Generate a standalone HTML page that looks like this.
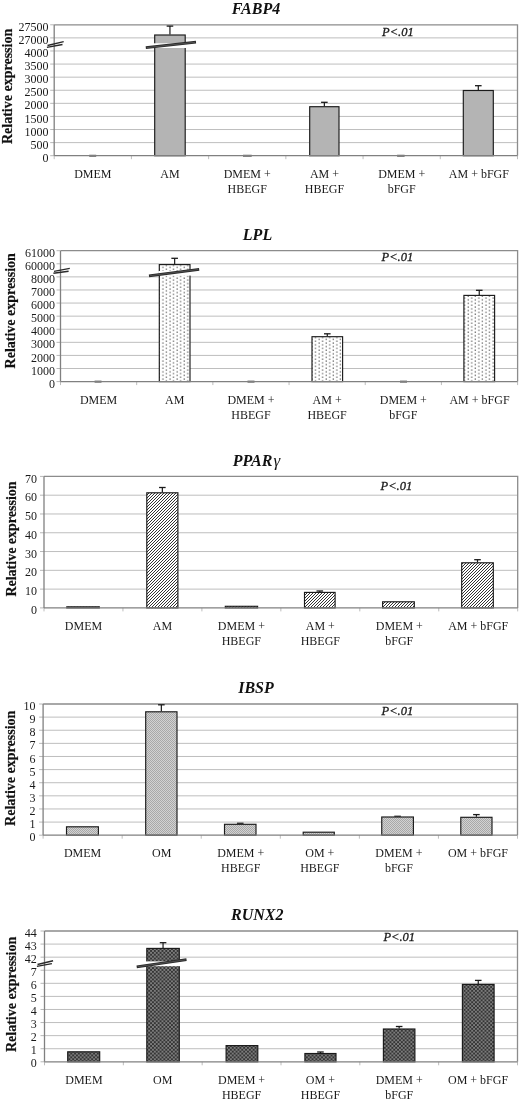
<!DOCTYPE html>
<html><head><meta charset="utf-8"><style>
html,body{margin:0;padding:0;background:#fff;}
svg{display:block;filter:blur(0.4px);}
.t{font-family:'Liberation Serif', serif;font-size:12px;fill:#1a1a1a;}
.ti{font-family:'Liberation Serif', serif;font-size:16px;font-weight:bold;font-style:italic;fill:#111;}
.p{font-family:'Liberation Serif', serif;font-size:12.5px;font-style:italic;fill:#1a1a1a;stroke:#1a1a1a;stroke-width:0.3px;}
.yl{font-family:'Liberation Serif', serif;font-size:14px;font-weight:bold;fill:#111;stroke:#111;stroke-width:0.2px;}
</style></head><body>
<svg width="520" height="1102" viewBox="0 0 520 1102">

<defs>
 <pattern id="pf1" width="4" height="4" patternUnits="userSpaceOnUse"><rect width="4" height="4" fill="#b4b4b4"/></pattern>
 <pattern id="pf2" width="7.1" height="3.6" patternUnits="userSpaceOnUse" patternTransform="translate(-1.5,0)"><rect width="7.1" height="3.6" fill="#fff"/><rect x="0.5" y="0.4" width="1.3" height="1.3" fill="#6a6a6a"/><rect x="4.05" y="2.2" width="1.3" height="1.3" fill="#6a6a6a"/></pattern>
 <pattern id="pf3" width="3" height="3" patternUnits="userSpaceOnUse"><rect width="3" height="3" fill="#fff"/><path d="M-0.75,0.75 L0.75,-0.75 M0,3 L3,0 M2.25,3.75 L3.75,2.25" stroke="#333" stroke-width="1.0"/></pattern>
 <pattern id="pf4" width="2" height="2" patternUnits="userSpaceOnUse"><rect width="2" height="2" fill="#d2d2d2"/><rect x="0" y="0" width="1" height="1" fill="#a8a8a8"/><rect x="1" y="1" width="1" height="1" fill="#a8a8a8"/></pattern>
 <pattern id="pf5" width="3.8" height="3.8" patternUnits="userSpaceOnUse"><rect width="3.8" height="3.8" fill="#353535"/><rect x="0" y="0" width="1.9" height="1.9" fill="#7c7c7c"/><rect x="1.9" y="1.9" width="1.9" height="1.9" fill="#7c7c7c"/></pattern>
</defs>
<line x1="54.2" y1="37.89" x2="517.5" y2="37.89" stroke="#bebebe" stroke-width="1"/>
<line x1="54.2" y1="50.98" x2="517.5" y2="50.98" stroke="#bebebe" stroke-width="1"/>
<line x1="54.2" y1="64.07" x2="517.5" y2="64.07" stroke="#bebebe" stroke-width="1"/>
<line x1="54.2" y1="77.16" x2="517.5" y2="77.16" stroke="#bebebe" stroke-width="1"/>
<line x1="54.2" y1="90.25" x2="517.5" y2="90.25" stroke="#bebebe" stroke-width="1"/>
<line x1="54.2" y1="103.34" x2="517.5" y2="103.34" stroke="#bebebe" stroke-width="1"/>
<line x1="54.2" y1="116.43" x2="517.5" y2="116.43" stroke="#bebebe" stroke-width="1"/>
<line x1="54.2" y1="129.52" x2="517.5" y2="129.52" stroke="#bebebe" stroke-width="1"/>
<line x1="54.2" y1="142.61" x2="517.5" y2="142.61" stroke="#bebebe" stroke-width="1"/>
<polyline points="54.2,24.8 517.5,24.8 517.5,155.7" fill="none" stroke="#8c8c8c" stroke-width="1.3"/>
<line x1="50.2" y1="24.8" x2="54.2" y2="24.8" stroke="#b8b8b8" stroke-width="1"/>
<line x1="50.2" y1="37.89" x2="54.2" y2="37.89" stroke="#b8b8b8" stroke-width="1"/>
<line x1="50.2" y1="50.98" x2="54.2" y2="50.98" stroke="#b8b8b8" stroke-width="1"/>
<line x1="50.2" y1="64.07" x2="54.2" y2="64.07" stroke="#b8b8b8" stroke-width="1"/>
<line x1="50.2" y1="77.16" x2="54.2" y2="77.16" stroke="#b8b8b8" stroke-width="1"/>
<line x1="50.2" y1="90.25" x2="54.2" y2="90.25" stroke="#b8b8b8" stroke-width="1"/>
<line x1="50.2" y1="103.34" x2="54.2" y2="103.34" stroke="#b8b8b8" stroke-width="1"/>
<line x1="50.2" y1="116.43" x2="54.2" y2="116.43" stroke="#b8b8b8" stroke-width="1"/>
<line x1="50.2" y1="129.52" x2="54.2" y2="129.52" stroke="#b8b8b8" stroke-width="1"/>
<line x1="50.2" y1="142.61" x2="54.2" y2="142.61" stroke="#b8b8b8" stroke-width="1"/>
<line x1="50.2" y1="155.7" x2="54.2" y2="155.7" stroke="#b8b8b8" stroke-width="1"/>
<line x1="54.2" y1="155.7" x2="54.2" y2="159.2" stroke="#bdbdbd" stroke-width="1"/>
<line x1="131.42" y1="155.7" x2="131.42" y2="159.2" stroke="#bdbdbd" stroke-width="1"/>
<line x1="208.63" y1="155.7" x2="208.63" y2="159.2" stroke="#bdbdbd" stroke-width="1"/>
<line x1="285.85" y1="155.7" x2="285.85" y2="159.2" stroke="#bdbdbd" stroke-width="1"/>
<line x1="363.07" y1="155.7" x2="363.07" y2="159.2" stroke="#bdbdbd" stroke-width="1"/>
<line x1="440.28" y1="155.7" x2="440.28" y2="159.2" stroke="#bdbdbd" stroke-width="1"/>
<line x1="517.5" y1="155.7" x2="517.5" y2="159.2" stroke="#bdbdbd" stroke-width="1"/>
<line x1="89.2" y1="155.7" x2="96.2" y2="155.7" stroke="#333" stroke-width="1.8"/>
<rect x="154.7" y="35" width="30.5" height="120.7" fill="url(#pf1)" stroke="#1a1a1a" stroke-width="1.15"/>
<line x1="169.95" y1="34.5" x2="169.95" y2="26.1" stroke="#1a1a1a" stroke-width="1.2"/>
<line x1="166.65" y1="26.1" x2="173.25" y2="26.1" stroke="#1a1a1a" stroke-width="1.3"/>
<line x1="243" y1="155.7" x2="251.7" y2="155.7" stroke="#333" stroke-width="1.8"/>
<rect x="309.7" y="106.7" width="29.3" height="49" fill="url(#pf1)" stroke="#1a1a1a" stroke-width="1.15"/>
<line x1="324.35" y1="106.2" x2="324.35" y2="102.3" stroke="#1a1a1a" stroke-width="1.2"/>
<line x1="321.05" y1="102.3" x2="327.65" y2="102.3" stroke="#1a1a1a" stroke-width="1.3"/>
<line x1="397.1" y1="155.7" x2="404.6" y2="155.7" stroke="#333" stroke-width="1.8"/>
<rect x="463.3" y="90.5" width="30" height="65.2" fill="url(#pf1)" stroke="#1a1a1a" stroke-width="1.15"/>
<line x1="478.3" y1="90" x2="478.3" y2="85.7" stroke="#1a1a1a" stroke-width="1.2"/>
<line x1="475" y1="85.7" x2="481.6" y2="85.7" stroke="#1a1a1a" stroke-width="1.3"/>
<rect x="153.7" y="43.3" width="32.5" height="4.7" fill="#fff"/>
<line x1="145.8" y1="47.7" x2="196" y2="42.2" stroke="#2a2a2a" stroke-width="2.8"/>
<line x1="146.8" y1="47.6" x2="195" y2="42.3" stroke="#6a6a6a" stroke-width="0.6"/>
<line x1="54.2" y1="24.8" x2="54.2" y2="155.7" stroke="#808080" stroke-width="1.3"/>
<line x1="54.2" y1="155.7" x2="517.5" y2="155.7" stroke="#808080" stroke-width="1.3"/>
<path d="M47.5,45.5 L63.7,41.6 M46.9,47.4 L62.5,44.5" fill="none" stroke="#2a2a2a" stroke-width="1.4"/>
<text x="48.5" y="30.9" text-anchor="end" class="t">27500</text>
<text x="48.5" y="43.99" text-anchor="end" class="t">27000</text>
<text x="48.5" y="57.08" text-anchor="end" class="t">4000</text>
<text x="48.5" y="70.17" text-anchor="end" class="t">3500</text>
<text x="48.5" y="83.26" text-anchor="end" class="t">3000</text>
<text x="48.5" y="96.35" text-anchor="end" class="t">2500</text>
<text x="48.5" y="109.44" text-anchor="end" class="t">2000</text>
<text x="48.5" y="122.53" text-anchor="end" class="t">1500</text>
<text x="48.5" y="135.62" text-anchor="end" class="t">1000</text>
<text x="48.5" y="148.71" text-anchor="end" class="t">500</text>
<text x="48.5" y="161.8" text-anchor="end" class="t">0</text>
<text x="92.81" y="177.7" text-anchor="middle" class="t">DMEM</text>
<text x="170.03" y="177.7" text-anchor="middle" class="t">AM</text>
<text x="247.24" y="177.7" text-anchor="middle" class="t">DMEM +</text>
<text x="247.24" y="192.7" text-anchor="middle" class="t">HBEGF</text>
<text x="324.46" y="177.7" text-anchor="middle" class="t">AM +</text>
<text x="324.46" y="192.7" text-anchor="middle" class="t">HBEGF</text>
<text x="401.68" y="177.7" text-anchor="middle" class="t">DMEM +</text>
<text x="401.68" y="192.7" text-anchor="middle" class="t">bFGF</text>
<text x="478.89" y="177.7" text-anchor="middle" class="t">AM + bFGF</text>
<text x="256" y="13.5" text-anchor="middle" class="ti">FABP4</text>
<text x="382" y="35.6" class="p">P&lt;.01</text>
<text transform="translate(12.3,86.4) rotate(-90)" text-anchor="middle" class="yl">Relative expression</text>
<line x1="60.5" y1="263.79" x2="517.6" y2="263.79" stroke="#bebebe" stroke-width="1"/>
<line x1="60.5" y1="276.88" x2="517.6" y2="276.88" stroke="#bebebe" stroke-width="1"/>
<line x1="60.5" y1="289.97" x2="517.6" y2="289.97" stroke="#bebebe" stroke-width="1"/>
<line x1="60.5" y1="303.06" x2="517.6" y2="303.06" stroke="#bebebe" stroke-width="1"/>
<line x1="60.5" y1="316.15" x2="517.6" y2="316.15" stroke="#bebebe" stroke-width="1"/>
<line x1="60.5" y1="329.24" x2="517.6" y2="329.24" stroke="#bebebe" stroke-width="1"/>
<line x1="60.5" y1="342.33" x2="517.6" y2="342.33" stroke="#bebebe" stroke-width="1"/>
<line x1="60.5" y1="355.42" x2="517.6" y2="355.42" stroke="#bebebe" stroke-width="1"/>
<line x1="60.5" y1="368.51" x2="517.6" y2="368.51" stroke="#bebebe" stroke-width="1"/>
<polyline points="60.5,250.7 517.6,250.7 517.6,381.6" fill="none" stroke="#8c8c8c" stroke-width="1.3"/>
<line x1="56.5" y1="250.7" x2="60.5" y2="250.7" stroke="#b8b8b8" stroke-width="1"/>
<line x1="56.5" y1="263.79" x2="60.5" y2="263.79" stroke="#b8b8b8" stroke-width="1"/>
<line x1="56.5" y1="276.88" x2="60.5" y2="276.88" stroke="#b8b8b8" stroke-width="1"/>
<line x1="56.5" y1="289.97" x2="60.5" y2="289.97" stroke="#b8b8b8" stroke-width="1"/>
<line x1="56.5" y1="303.06" x2="60.5" y2="303.06" stroke="#b8b8b8" stroke-width="1"/>
<line x1="56.5" y1="316.15" x2="60.5" y2="316.15" stroke="#b8b8b8" stroke-width="1"/>
<line x1="56.5" y1="329.24" x2="60.5" y2="329.24" stroke="#b8b8b8" stroke-width="1"/>
<line x1="56.5" y1="342.33" x2="60.5" y2="342.33" stroke="#b8b8b8" stroke-width="1"/>
<line x1="56.5" y1="355.42" x2="60.5" y2="355.42" stroke="#b8b8b8" stroke-width="1"/>
<line x1="56.5" y1="368.51" x2="60.5" y2="368.51" stroke="#b8b8b8" stroke-width="1"/>
<line x1="56.5" y1="381.6" x2="60.5" y2="381.6" stroke="#b8b8b8" stroke-width="1"/>
<line x1="60.5" y1="381.6" x2="60.5" y2="385.1" stroke="#bdbdbd" stroke-width="1"/>
<line x1="136.68" y1="381.6" x2="136.68" y2="385.1" stroke="#bdbdbd" stroke-width="1"/>
<line x1="212.87" y1="381.6" x2="212.87" y2="385.1" stroke="#bdbdbd" stroke-width="1"/>
<line x1="289.05" y1="381.6" x2="289.05" y2="385.1" stroke="#bdbdbd" stroke-width="1"/>
<line x1="365.23" y1="381.6" x2="365.23" y2="385.1" stroke="#bdbdbd" stroke-width="1"/>
<line x1="441.42" y1="381.6" x2="441.42" y2="385.1" stroke="#bdbdbd" stroke-width="1"/>
<line x1="517.6" y1="381.6" x2="517.6" y2="385.1" stroke="#bdbdbd" stroke-width="1"/>
<line x1="94.6" y1="381.6" x2="101.5" y2="381.6" stroke="#333" stroke-width="1.8"/>
<rect x="159.3" y="264.6" width="30.7" height="117" fill="url(#pf2)" stroke="#1a1a1a" stroke-width="1.15"/>
<line x1="174.65" y1="264.1" x2="174.65" y2="258.3" stroke="#1a1a1a" stroke-width="1.2"/>
<line x1="171.35" y1="258.3" x2="177.95" y2="258.3" stroke="#1a1a1a" stroke-width="1.3"/>
<line x1="247.5" y1="381.6" x2="254.5" y2="381.6" stroke="#333" stroke-width="1.8"/>
<rect x="312" y="336.7" width="30.6" height="44.9" fill="url(#pf2)" stroke="#1a1a1a" stroke-width="1.15"/>
<line x1="327.3" y1="336.2" x2="327.3" y2="333.8" stroke="#1a1a1a" stroke-width="1.2"/>
<line x1="324" y1="333.8" x2="330.6" y2="333.8" stroke="#1a1a1a" stroke-width="1.3"/>
<line x1="400" y1="381.6" x2="407" y2="381.6" stroke="#333" stroke-width="1.8"/>
<rect x="463.9" y="295.4" width="30.7" height="86.2" fill="url(#pf2)" stroke="#1a1a1a" stroke-width="1.15"/>
<line x1="479.25" y1="294.9" x2="479.25" y2="290.3" stroke="#1a1a1a" stroke-width="1.2"/>
<line x1="475.95" y1="290.3" x2="482.55" y2="290.3" stroke="#1a1a1a" stroke-width="1.3"/>
<rect x="158.3" y="271" width="32.7" height="4.6" fill="#fff"/>
<line x1="149" y1="275.8" x2="199.2" y2="269.4" stroke="#2a2a2a" stroke-width="2.8"/>
<line x1="150" y1="275.7" x2="198.2" y2="269.5" stroke="#6a6a6a" stroke-width="0.6"/>
<line x1="60.5" y1="250.7" x2="60.5" y2="381.6" stroke="#808080" stroke-width="1.3"/>
<line x1="60.5" y1="381.6" x2="517.6" y2="381.6" stroke="#808080" stroke-width="1.3"/>
<path d="M54,271.4 L69.8,268.4 M53.4,273.3 L68.6,271.3" fill="none" stroke="#2a2a2a" stroke-width="1.4"/>
<text x="55" y="256.8" text-anchor="end" class="t">61000</text>
<text x="55" y="269.89" text-anchor="end" class="t">60000</text>
<text x="55" y="282.98" text-anchor="end" class="t">8000</text>
<text x="55" y="296.07" text-anchor="end" class="t">7000</text>
<text x="55" y="309.16" text-anchor="end" class="t">6000</text>
<text x="55" y="322.25" text-anchor="end" class="t">5000</text>
<text x="55" y="335.34" text-anchor="end" class="t">4000</text>
<text x="55" y="348.43" text-anchor="end" class="t">3000</text>
<text x="55" y="361.52" text-anchor="end" class="t">2000</text>
<text x="55" y="374.61" text-anchor="end" class="t">1000</text>
<text x="55" y="387.7" text-anchor="end" class="t">0</text>
<text x="98.59" y="403.6" text-anchor="middle" class="t">DMEM</text>
<text x="174.78" y="403.6" text-anchor="middle" class="t">AM</text>
<text x="250.96" y="403.6" text-anchor="middle" class="t">DMEM +</text>
<text x="250.96" y="418.6" text-anchor="middle" class="t">HBEGF</text>
<text x="327.14" y="403.6" text-anchor="middle" class="t">AM +</text>
<text x="327.14" y="418.6" text-anchor="middle" class="t">HBEGF</text>
<text x="403.33" y="403.6" text-anchor="middle" class="t">DMEM +</text>
<text x="403.33" y="418.6" text-anchor="middle" class="t">bFGF</text>
<text x="479.51" y="403.6" text-anchor="middle" class="t">AM + bFGF</text>
<text x="257.5" y="239.6" text-anchor="middle" class="ti">LPL</text>
<text x="381.5" y="261.2" class="p">P&lt;.01</text>
<text transform="translate(14.7,310.8) rotate(-90)" text-anchor="middle" class="yl">Relative expression</text>
<line x1="44" y1="495.19" x2="517.7" y2="495.19" stroke="#bebebe" stroke-width="1"/>
<line x1="44" y1="513.97" x2="517.7" y2="513.97" stroke="#bebebe" stroke-width="1"/>
<line x1="44" y1="532.76" x2="517.7" y2="532.76" stroke="#bebebe" stroke-width="1"/>
<line x1="44" y1="551.54" x2="517.7" y2="551.54" stroke="#bebebe" stroke-width="1"/>
<line x1="44" y1="570.33" x2="517.7" y2="570.33" stroke="#bebebe" stroke-width="1"/>
<line x1="44" y1="589.11" x2="517.7" y2="589.11" stroke="#bebebe" stroke-width="1"/>
<polyline points="44,476.4 517.7,476.4 517.7,607.9" fill="none" stroke="#8c8c8c" stroke-width="1.3"/>
<line x1="40" y1="476.4" x2="44" y2="476.4" stroke="#b8b8b8" stroke-width="1"/>
<line x1="40" y1="495.19" x2="44" y2="495.19" stroke="#b8b8b8" stroke-width="1"/>
<line x1="40" y1="513.97" x2="44" y2="513.97" stroke="#b8b8b8" stroke-width="1"/>
<line x1="40" y1="532.76" x2="44" y2="532.76" stroke="#b8b8b8" stroke-width="1"/>
<line x1="40" y1="551.54" x2="44" y2="551.54" stroke="#b8b8b8" stroke-width="1"/>
<line x1="40" y1="570.33" x2="44" y2="570.33" stroke="#b8b8b8" stroke-width="1"/>
<line x1="40" y1="589.11" x2="44" y2="589.11" stroke="#b8b8b8" stroke-width="1"/>
<line x1="40" y1="607.9" x2="44" y2="607.9" stroke="#b8b8b8" stroke-width="1"/>
<line x1="44" y1="607.9" x2="44" y2="611.4" stroke="#bdbdbd" stroke-width="1"/>
<line x1="122.95" y1="607.9" x2="122.95" y2="611.4" stroke="#bdbdbd" stroke-width="1"/>
<line x1="201.9" y1="607.9" x2="201.9" y2="611.4" stroke="#bdbdbd" stroke-width="1"/>
<line x1="280.85" y1="607.9" x2="280.85" y2="611.4" stroke="#bdbdbd" stroke-width="1"/>
<line x1="359.8" y1="607.9" x2="359.8" y2="611.4" stroke="#bdbdbd" stroke-width="1"/>
<line x1="438.75" y1="607.9" x2="438.75" y2="611.4" stroke="#bdbdbd" stroke-width="1"/>
<line x1="517.7" y1="607.9" x2="517.7" y2="611.4" stroke="#bdbdbd" stroke-width="1"/>
<rect x="66.8" y="606.8" width="32.5" height="1.1" fill="url(#pf3)" stroke="#1a1a1a" stroke-width="1.15"/>
<rect x="146.8" y="492.8" width="31.1" height="115.1" fill="url(#pf3)" stroke="#1a1a1a" stroke-width="1.15"/>
<line x1="162.35" y1="492.3" x2="162.35" y2="487.5" stroke="#1a1a1a" stroke-width="1.2"/>
<line x1="159.05" y1="487.5" x2="165.65" y2="487.5" stroke="#1a1a1a" stroke-width="1.3"/>
<rect x="225.3" y="606.3" width="32.3" height="1.6" fill="url(#pf3)" stroke="#1a1a1a" stroke-width="1.15"/>
<rect x="304.5" y="592.4" width="30.6" height="15.5" fill="url(#pf3)" stroke="#1a1a1a" stroke-width="1.15"/>
<line x1="319.8" y1="591.9" x2="319.8" y2="591" stroke="#1a1a1a" stroke-width="1.2"/>
<line x1="316.5" y1="591" x2="323.1" y2="591" stroke="#1a1a1a" stroke-width="1.3"/>
<rect x="382.6" y="601.8" width="31.7" height="6.1" fill="url(#pf3)" stroke="#1a1a1a" stroke-width="1.15"/>
<rect x="461.7" y="562.8" width="31.6" height="45.1" fill="url(#pf3)" stroke="#1a1a1a" stroke-width="1.15"/>
<line x1="477.5" y1="562.3" x2="477.5" y2="559.7" stroke="#1a1a1a" stroke-width="1.2"/>
<line x1="474.2" y1="559.7" x2="480.8" y2="559.7" stroke="#1a1a1a" stroke-width="1.3"/>
<line x1="44" y1="476.4" x2="44" y2="607.9" stroke="#808080" stroke-width="1.3"/>
<line x1="44" y1="607.9" x2="517.7" y2="607.9" stroke="#808080" stroke-width="1.3"/>
<text x="37" y="482.5" text-anchor="end" class="t">70</text>
<text x="37" y="501.29" text-anchor="end" class="t">60</text>
<text x="37" y="520.07" text-anchor="end" class="t">50</text>
<text x="37" y="538.86" text-anchor="end" class="t">40</text>
<text x="37" y="557.64" text-anchor="end" class="t">30</text>
<text x="37" y="576.43" text-anchor="end" class="t">20</text>
<text x="37" y="595.21" text-anchor="end" class="t">10</text>
<text x="37" y="614" text-anchor="end" class="t">0</text>
<text x="83.47" y="629.9" text-anchor="middle" class="t">DMEM</text>
<text x="162.43" y="629.9" text-anchor="middle" class="t">AM</text>
<text x="241.38" y="629.9" text-anchor="middle" class="t">DMEM +</text>
<text x="241.38" y="644.9" text-anchor="middle" class="t">HBEGF</text>
<text x="320.32" y="629.9" text-anchor="middle" class="t">AM +</text>
<text x="320.32" y="644.9" text-anchor="middle" class="t">HBEGF</text>
<text x="399.28" y="629.9" text-anchor="middle" class="t">DMEM +</text>
<text x="399.28" y="644.9" text-anchor="middle" class="t">bFGF</text>
<text x="478.23" y="629.9" text-anchor="middle" class="t">AM + bFGF</text>
<text x="256.5" y="466.1" text-anchor="middle" class="ti">PPAR<tspan dx="1.2" style="font-weight:normal" font-size="17">&#947;</tspan></text>
<text x="380.5" y="490.3" class="p">P&lt;.01</text>
<text transform="translate(16,539) rotate(-90)" text-anchor="middle" class="yl">Relative expression</text>
<line x1="43.1" y1="717.12" x2="517.5" y2="717.12" stroke="#bebebe" stroke-width="1"/>
<line x1="43.1" y1="730.24" x2="517.5" y2="730.24" stroke="#bebebe" stroke-width="1"/>
<line x1="43.1" y1="743.36" x2="517.5" y2="743.36" stroke="#bebebe" stroke-width="1"/>
<line x1="43.1" y1="756.48" x2="517.5" y2="756.48" stroke="#bebebe" stroke-width="1"/>
<line x1="43.1" y1="769.6" x2="517.5" y2="769.6" stroke="#bebebe" stroke-width="1"/>
<line x1="43.1" y1="782.72" x2="517.5" y2="782.72" stroke="#bebebe" stroke-width="1"/>
<line x1="43.1" y1="795.84" x2="517.5" y2="795.84" stroke="#bebebe" stroke-width="1"/>
<line x1="43.1" y1="808.96" x2="517.5" y2="808.96" stroke="#bebebe" stroke-width="1"/>
<line x1="43.1" y1="822.08" x2="517.5" y2="822.08" stroke="#bebebe" stroke-width="1"/>
<polyline points="43.1,704 517.5,704 517.5,835.2" fill="none" stroke="#8c8c8c" stroke-width="1.3"/>
<line x1="39.1" y1="704" x2="43.1" y2="704" stroke="#b8b8b8" stroke-width="1"/>
<line x1="39.1" y1="717.12" x2="43.1" y2="717.12" stroke="#b8b8b8" stroke-width="1"/>
<line x1="39.1" y1="730.24" x2="43.1" y2="730.24" stroke="#b8b8b8" stroke-width="1"/>
<line x1="39.1" y1="743.36" x2="43.1" y2="743.36" stroke="#b8b8b8" stroke-width="1"/>
<line x1="39.1" y1="756.48" x2="43.1" y2="756.48" stroke="#b8b8b8" stroke-width="1"/>
<line x1="39.1" y1="769.6" x2="43.1" y2="769.6" stroke="#b8b8b8" stroke-width="1"/>
<line x1="39.1" y1="782.72" x2="43.1" y2="782.72" stroke="#b8b8b8" stroke-width="1"/>
<line x1="39.1" y1="795.84" x2="43.1" y2="795.84" stroke="#b8b8b8" stroke-width="1"/>
<line x1="39.1" y1="808.96" x2="43.1" y2="808.96" stroke="#b8b8b8" stroke-width="1"/>
<line x1="39.1" y1="822.08" x2="43.1" y2="822.08" stroke="#b8b8b8" stroke-width="1"/>
<line x1="39.1" y1="835.2" x2="43.1" y2="835.2" stroke="#b8b8b8" stroke-width="1"/>
<line x1="43.1" y1="835.2" x2="43.1" y2="838.7" stroke="#bdbdbd" stroke-width="1"/>
<line x1="122.17" y1="835.2" x2="122.17" y2="838.7" stroke="#bdbdbd" stroke-width="1"/>
<line x1="201.23" y1="835.2" x2="201.23" y2="838.7" stroke="#bdbdbd" stroke-width="1"/>
<line x1="280.3" y1="835.2" x2="280.3" y2="838.7" stroke="#bdbdbd" stroke-width="1"/>
<line x1="359.37" y1="835.2" x2="359.37" y2="838.7" stroke="#bdbdbd" stroke-width="1"/>
<line x1="438.43" y1="835.2" x2="438.43" y2="838.7" stroke="#bdbdbd" stroke-width="1"/>
<line x1="517.5" y1="835.2" x2="517.5" y2="838.7" stroke="#bdbdbd" stroke-width="1"/>
<rect x="66.5" y="826.8" width="31.9" height="8.4" fill="url(#pf4)" stroke="#1a1a1a" stroke-width="1.15"/>
<rect x="145.7" y="711.8" width="31.3" height="123.4" fill="url(#pf4)" stroke="#1a1a1a" stroke-width="1.15"/>
<line x1="161.35" y1="711.3" x2="161.35" y2="704.8" stroke="#1a1a1a" stroke-width="1.2"/>
<line x1="158.05" y1="704.8" x2="164.65" y2="704.8" stroke="#1a1a1a" stroke-width="1.3"/>
<rect x="224.5" y="824.3" width="31.5" height="10.9" fill="url(#pf4)" stroke="#1a1a1a" stroke-width="1.15"/>
<line x1="236.95" y1="823.3" x2="243.55" y2="823.3" stroke="#333" stroke-width="1.4"/>
<rect x="303.2" y="832.2" width="31.1" height="3" fill="url(#pf4)" stroke="#1a1a1a" stroke-width="1.15"/>
<rect x="381.75" y="817" width="31.65" height="18.2" fill="url(#pf4)" stroke="#1a1a1a" stroke-width="1.15"/>
<line x1="394.27" y1="816.3" x2="400.88" y2="816.3" stroke="#333" stroke-width="1.4"/>
<rect x="460.8" y="817.3" width="31.2" height="17.9" fill="url(#pf4)" stroke="#1a1a1a" stroke-width="1.15"/>
<line x1="476.4" y1="816.8" x2="476.4" y2="814.6" stroke="#1a1a1a" stroke-width="1.2"/>
<line x1="473.1" y1="814.6" x2="479.7" y2="814.6" stroke="#1a1a1a" stroke-width="1.3"/>
<line x1="43.1" y1="704" x2="43.1" y2="835.2" stroke="#808080" stroke-width="1.3"/>
<line x1="43.1" y1="835.2" x2="517.5" y2="835.2" stroke="#808080" stroke-width="1.3"/>
<text x="35.4" y="710.1" text-anchor="end" class="t">10</text>
<text x="35.4" y="723.22" text-anchor="end" class="t">9</text>
<text x="35.4" y="736.34" text-anchor="end" class="t">8</text>
<text x="35.4" y="749.46" text-anchor="end" class="t">7</text>
<text x="35.4" y="762.58" text-anchor="end" class="t">6</text>
<text x="35.4" y="775.7" text-anchor="end" class="t">5</text>
<text x="35.4" y="788.82" text-anchor="end" class="t">4</text>
<text x="35.4" y="801.94" text-anchor="end" class="t">3</text>
<text x="35.4" y="815.06" text-anchor="end" class="t">2</text>
<text x="35.4" y="828.18" text-anchor="end" class="t">1</text>
<text x="35.4" y="841.3" text-anchor="end" class="t">0</text>
<text x="82.63" y="857.2" text-anchor="middle" class="t">DMEM</text>
<text x="161.7" y="857.2" text-anchor="middle" class="t">OM</text>
<text x="240.77" y="857.2" text-anchor="middle" class="t">DMEM +</text>
<text x="240.77" y="872.2" text-anchor="middle" class="t">HBEGF</text>
<text x="319.83" y="857.2" text-anchor="middle" class="t">OM +</text>
<text x="319.83" y="872.2" text-anchor="middle" class="t">HBEGF</text>
<text x="398.9" y="857.2" text-anchor="middle" class="t">DMEM +</text>
<text x="398.9" y="872.2" text-anchor="middle" class="t">bFGF</text>
<text x="477.97" y="857.2" text-anchor="middle" class="t">OM + bFGF</text>
<text x="256" y="693.1" text-anchor="middle" class="ti">IBSP</text>
<text x="381.5" y="714.9" class="p">P&lt;.01</text>
<text transform="translate(15,768.3) rotate(-90)" text-anchor="middle" class="yl">Relative expression</text>
<line x1="44.5" y1="944.08" x2="517.5" y2="944.08" stroke="#bebebe" stroke-width="1"/>
<line x1="44.5" y1="957.16" x2="517.5" y2="957.16" stroke="#bebebe" stroke-width="1"/>
<line x1="44.5" y1="970.24" x2="517.5" y2="970.24" stroke="#bebebe" stroke-width="1"/>
<line x1="44.5" y1="983.32" x2="517.5" y2="983.32" stroke="#bebebe" stroke-width="1"/>
<line x1="44.5" y1="996.4" x2="517.5" y2="996.4" stroke="#bebebe" stroke-width="1"/>
<line x1="44.5" y1="1009.48" x2="517.5" y2="1009.48" stroke="#bebebe" stroke-width="1"/>
<line x1="44.5" y1="1022.56" x2="517.5" y2="1022.56" stroke="#bebebe" stroke-width="1"/>
<line x1="44.5" y1="1035.64" x2="517.5" y2="1035.64" stroke="#bebebe" stroke-width="1"/>
<line x1="44.5" y1="1048.72" x2="517.5" y2="1048.72" stroke="#bebebe" stroke-width="1"/>
<polyline points="44.5,931 517.5,931 517.5,1061.8" fill="none" stroke="#8c8c8c" stroke-width="1.3"/>
<line x1="40.5" y1="931" x2="44.5" y2="931" stroke="#b8b8b8" stroke-width="1"/>
<line x1="40.5" y1="944.08" x2="44.5" y2="944.08" stroke="#b8b8b8" stroke-width="1"/>
<line x1="40.5" y1="957.16" x2="44.5" y2="957.16" stroke="#b8b8b8" stroke-width="1"/>
<line x1="40.5" y1="970.24" x2="44.5" y2="970.24" stroke="#b8b8b8" stroke-width="1"/>
<line x1="40.5" y1="983.32" x2="44.5" y2="983.32" stroke="#b8b8b8" stroke-width="1"/>
<line x1="40.5" y1="996.4" x2="44.5" y2="996.4" stroke="#b8b8b8" stroke-width="1"/>
<line x1="40.5" y1="1009.48" x2="44.5" y2="1009.48" stroke="#b8b8b8" stroke-width="1"/>
<line x1="40.5" y1="1022.56" x2="44.5" y2="1022.56" stroke="#b8b8b8" stroke-width="1"/>
<line x1="40.5" y1="1035.64" x2="44.5" y2="1035.64" stroke="#b8b8b8" stroke-width="1"/>
<line x1="40.5" y1="1048.72" x2="44.5" y2="1048.72" stroke="#b8b8b8" stroke-width="1"/>
<line x1="40.5" y1="1061.8" x2="44.5" y2="1061.8" stroke="#b8b8b8" stroke-width="1"/>
<line x1="44.5" y1="1061.8" x2="44.5" y2="1065.3" stroke="#bdbdbd" stroke-width="1"/>
<line x1="123.33" y1="1061.8" x2="123.33" y2="1065.3" stroke="#bdbdbd" stroke-width="1"/>
<line x1="202.17" y1="1061.8" x2="202.17" y2="1065.3" stroke="#bdbdbd" stroke-width="1"/>
<line x1="281" y1="1061.8" x2="281" y2="1065.3" stroke="#bdbdbd" stroke-width="1"/>
<line x1="359.83" y1="1061.8" x2="359.83" y2="1065.3" stroke="#bdbdbd" stroke-width="1"/>
<line x1="438.67" y1="1061.8" x2="438.67" y2="1065.3" stroke="#bdbdbd" stroke-width="1"/>
<line x1="517.5" y1="1061.8" x2="517.5" y2="1065.3" stroke="#bdbdbd" stroke-width="1"/>
<rect x="67.7" y="1051.8" width="32" height="10" fill="url(#pf5)" stroke="#1a1a1a" stroke-width="1.15"/>
<rect x="146.8" y="948.4" width="32.5" height="113.4" fill="url(#pf5)" stroke="#1a1a1a" stroke-width="1.15"/>
<line x1="163.05" y1="947.9" x2="163.05" y2="942.7" stroke="#1a1a1a" stroke-width="1.2"/>
<line x1="159.75" y1="942.7" x2="166.35" y2="942.7" stroke="#1a1a1a" stroke-width="1.3"/>
<rect x="226.1" y="1045.6" width="31.7" height="16.2" fill="url(#pf5)" stroke="#1a1a1a" stroke-width="1.15"/>
<rect x="304.9" y="1053.5" width="31.1" height="8.3" fill="url(#pf5)" stroke="#1a1a1a" stroke-width="1.15"/>
<line x1="320.45" y1="1053" x2="320.45" y2="1052" stroke="#1a1a1a" stroke-width="1.2"/>
<line x1="317.15" y1="1052" x2="323.75" y2="1052" stroke="#1a1a1a" stroke-width="1.3"/>
<rect x="383.4" y="1029" width="31.5" height="32.8" fill="url(#pf5)" stroke="#1a1a1a" stroke-width="1.15"/>
<line x1="399.15" y1="1028.5" x2="399.15" y2="1026.5" stroke="#1a1a1a" stroke-width="1.2"/>
<line x1="395.85" y1="1026.5" x2="402.45" y2="1026.5" stroke="#1a1a1a" stroke-width="1.3"/>
<rect x="462.4" y="984.4" width="31.7" height="77.4" fill="url(#pf5)" stroke="#1a1a1a" stroke-width="1.15"/>
<line x1="478.25" y1="983.9" x2="478.25" y2="980.4" stroke="#1a1a1a" stroke-width="1.2"/>
<line x1="474.95" y1="980.4" x2="481.55" y2="980.4" stroke="#1a1a1a" stroke-width="1.3"/>
<rect x="145.8" y="961.4" width="34.5" height="4.8" fill="#fff"/>
<line x1="136.7" y1="966.8" x2="186.5" y2="959.7" stroke="#2a2a2a" stroke-width="2.8"/>
<line x1="137.7" y1="966.7" x2="185.5" y2="959.8" stroke="#6a6a6a" stroke-width="0.6"/>
<line x1="44.5" y1="931" x2="44.5" y2="1061.8" stroke="#808080" stroke-width="1.3"/>
<line x1="44.5" y1="1061.8" x2="517.5" y2="1061.8" stroke="#808080" stroke-width="1.3"/>
<path d="M37.5,964.5 L53.1,960.7 M36.9,966.4 L51.9,963.6" fill="none" stroke="#2a2a2a" stroke-width="1.4"/>
<text x="36.8" y="936.5" text-anchor="end" class="t">44</text>
<text x="36.8" y="949.58" text-anchor="end" class="t">43</text>
<text x="36.8" y="962.66" text-anchor="end" class="t">42</text>
<text x="36.8" y="975.74" text-anchor="end" class="t">7</text>
<text x="36.8" y="988.82" text-anchor="end" class="t">6</text>
<text x="36.8" y="1001.9" text-anchor="end" class="t">5</text>
<text x="36.8" y="1014.98" text-anchor="end" class="t">4</text>
<text x="36.8" y="1028.06" text-anchor="end" class="t">3</text>
<text x="36.8" y="1041.14" text-anchor="end" class="t">2</text>
<text x="36.8" y="1054.22" text-anchor="end" class="t">1</text>
<text x="36.8" y="1067.3" text-anchor="end" class="t">0</text>
<text x="83.92" y="1083.8" text-anchor="middle" class="t">DMEM</text>
<text x="162.75" y="1083.8" text-anchor="middle" class="t">OM</text>
<text x="241.58" y="1083.8" text-anchor="middle" class="t">DMEM +</text>
<text x="241.58" y="1098.8" text-anchor="middle" class="t">HBEGF</text>
<text x="320.42" y="1083.8" text-anchor="middle" class="t">OM +</text>
<text x="320.42" y="1098.8" text-anchor="middle" class="t">HBEGF</text>
<text x="399.25" y="1083.8" text-anchor="middle" class="t">DMEM +</text>
<text x="399.25" y="1098.8" text-anchor="middle" class="t">bFGF</text>
<text x="478.08" y="1083.8" text-anchor="middle" class="t">OM + bFGF</text>
<text x="257.2" y="920" text-anchor="middle" class="ti">RUNX2</text>
<text x="383.4" y="941.2" class="p">P&lt;.01</text>
<text transform="translate(16,994.4) rotate(-90)" text-anchor="middle" class="yl">Relative expression</text>
</svg>
</body></html>
